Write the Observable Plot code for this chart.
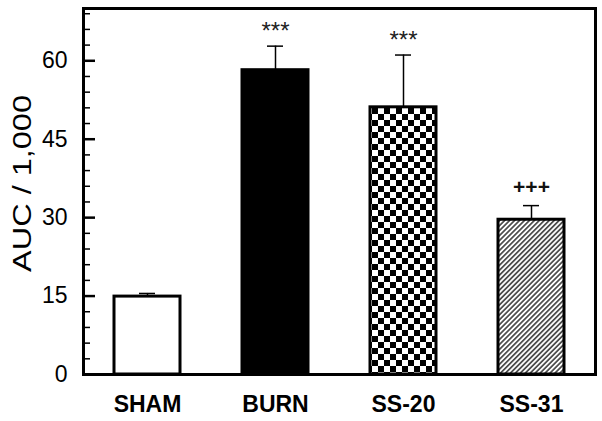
<!DOCTYPE html>
<html>
<head>
<meta charset="utf-8">
<script src="https://cdn.jsdelivr.net/npm/d3@7"></script>
<script src="https://cdn.jsdelivr.net/npm/@observablehq/plot@0.6"></script>
<style>
  html, body { margin: 0; padding: 0; background: #fff; }
  #wrap { position: relative; width: 602px; height: 421px; }
  #wrap > svg { position: absolute; left: 0; top: 0; }
</style>
</head>
<body>
<div id="wrap"></div>
<script>
const categories = ["SHAM", "BURN", "SS-20", "SS-31"];
const means = [14.9, 58.2, 51.1, 29.6];
const errors = [0.6, 4.6, 10.0, 2.7];
const significance = ["", "***", "***", "+++"];
const majorTicks = [0, 15, 30, 45, 60];
const minorTicks = [3, 6, 9, 12, 18, 21, 24, 27, 33, 36, 39, 42, 48, 51, 54, 57, 63, 66, 69];
const yLabel = "AUC / 1,000";

const data = categories.map((c, i) => ({cat: c, mean: means[i], err: errors[i], sig: significance[i]}));
const fills = ["white", "black", "url(#checker)", "url(#hatch)"];
const font = "'Liberation Sans', Arial, sans-serif";
const dims = {width: 602, height: 421, marginLeft: 83, marginRight: 7, marginTop: 8, marginBottom: 47};

const svg = Plot.plot({
  ...dims,
  style: {fontFamily: font, background: "white", color: "black"},
  x: {domain: categories, paddingInner: 0.484, paddingOuter: 0.242, axis: null},
  y: {domain: [0, 70], axis: null},
  color: {domain: categories, range: fills},
  marks: [
    Plot.barY(data, {x: "cat", y: "mean", fill: "cat", stroke: "#000", strokeWidth: 3}),
    Plot.ruleX(data, {x: "cat", y1: "mean", y2: d => d.mean + d.err, stroke: "#000", strokeWidth: 1.5}),
    Plot.tickY(data, {x: "cat", y: d => d.mean + d.err, stroke: "#000", strokeWidth: 1.5, insetLeft: 25, insetRight: 25}),
    Plot.text(data.filter(d => d.sig === "***"), {x: "cat", y: d => d.mean + d.err, text: "sig", fontSize: 24, dy: -15, fill: "#222"}),
    Plot.text(data.filter(d => d.sig === "+++"), {x: "cat", y: d => d.mean + d.err, text: "sig", fontSize: 21, fontWeight: "bold", dy: -18, fill: "#111"}),
    Plot.frame({stroke: "#000", strokeWidth: 3}),
    Plot.axisY(majorTicks, {anchor: "left", tickSize: 0, tickPadding: 16, fontSize: 23, label: null}),
    Plot.axisX({tickSize: 0, tickPadding: 21, fontSize: 23, fontWeight: "bold", label: null}),
    Plot.text([yLabel], {frameAnchor: "left", textAnchor: "middle", dx: -61, dy: -8, rotate: -90, fontSize: 25})
  ]
});

const s = d3.select(svg);
const defs = s.insert("defs", ":first-child");
const chk = defs.append("pattern").attr("id", "checker").attr("patternUnits", "userSpaceOnUse")
  .attr("width", 12).attr("height", 12);
chk.append("rect").attr("width", 12).attr("height", 12).attr("fill", "white");
chk.append("rect").attr("width", 6).attr("height", 6).attr("fill", "black");
chk.append("rect").attr("x", 6).attr("y", 6).attr("width", 6).attr("height", 6).attr("fill", "black");
const hw = 3.5;
const hat = defs.append("pattern").attr("id", "hatch").attr("patternUnits", "userSpaceOnUse")
  .attr("width", hw).attr("height", hw).attr("patternTransform", "rotate(45)");
hat.append("rect").attr("width", hw).attr("height", hw).attr("fill", "white");
hat.append("line").attr("x1", hw / 2).attr("y1", 0).attr("x2", hw / 2).attr("y2", hw)
  .attr("stroke", "#111").attr("stroke-width", 1.3);

s.selectAll("text").filter(function() { return this.textContent === yLabel; }).each(function() {
  const tr = this.getAttribute("transform") || "";
  this.setAttribute("transform", tr + " scale(1.3,1)");
});

document.getElementById("wrap").appendChild(svg);

// Inward y-axis ticks: a transparent overlay plot sharing the same frame and y scale
const tickLayer = Plot.plot({
  ...dims,
  style: {background: "transparent"},
  y: {domain: [0, 70], axis: null},
  marks: [
    Plot.ruleY(majorTicks, {y: d => d, stroke: "#000", strokeWidth: 2.5, insetRight: 500}),
    Plot.ruleY(minorTicks, {y: d => d, stroke: "#000", strokeWidth: 1.5, insetRight: 505})
  ]
});
tickLayer.style.background = "transparent";
document.getElementById("wrap").appendChild(tickLayer);
</script>
</body>
</html>
